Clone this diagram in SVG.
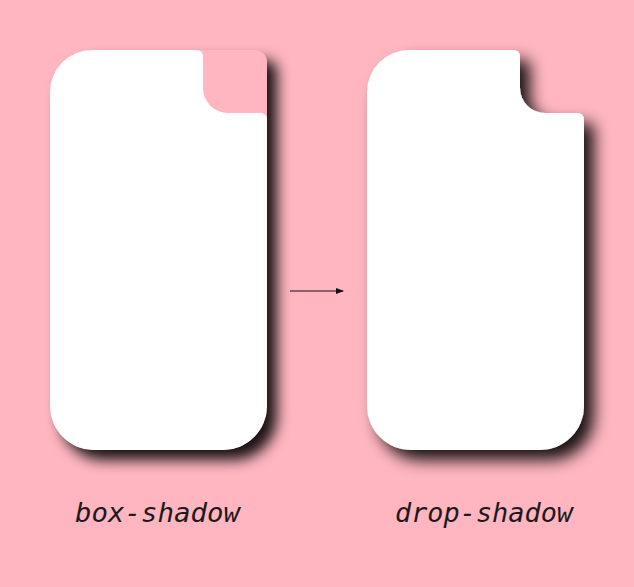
<svg xmlns="http://www.w3.org/2000/svg" width="634" height="587" viewBox="0 0 634 587">
  <defs>
    <style>
      .card { fill: #ffffff; }
      .label { font-family: "DejaVu Sans Mono", "Liberation Mono", monospace; font-style: italic; font-size: 27px; fill: #1e1a1b; }
      .conn { stroke: #111111; stroke-width: 1.2; fill: none; }
    </style>
    <path id="cardShape" d="M 50 92 A 42 42 0 0 1 92 50 H 197 A 6 6 0 0 1 203 56 V 88 A 25 25 0 0 0 228 113 H 261 A 6 6 0 0 1 267 119 V 406 A 44 44 0 0 1 223 450 H 94 A 44 44 0 0 1 50 406 Z"/>
    <filter id="blurBox" x="-20%" y="-20%" width="140%" height="140%">
      <feGaussianBlur stdDeviation="7"/>
    </filter>
    <filter id="dropShadow" x="-20%" y="-20%" width="140%" height="140%">
      <feDropShadow dx="10" dy="10" stdDeviation="8" flood-color="#000000" flood-opacity="0.9"/>
    </filter>
    <mask id="outsideBox" maskUnits="userSpaceOnUse" x="0" y="0" width="634" height="587">
      <rect x="0" y="0" width="634" height="587" fill="#ffffff"/>
      <path d="M 50 92 A 42 42 0 0 1 92 50 H 255 A 12 12 0 0 1 267 62 V 406 A 44 44 0 0 1 223 450 H 94 A 44 44 0 0 1 50 406 Z" fill="#000000"/>
    </mask>
    <marker id="arrow" markerWidth="8" markerHeight="6" refX="7" refY="3" orient="auto" markerUnits="userSpaceOnUse">
      <path d="M0,0 L8,3 L0,6 Z" fill="#111111"/>
    </marker>
  </defs>
  <rect width="634" height="587" fill="#ffb6c1"/>

  <g id="box-shadow-card">
    <g mask="url(#outsideBox)">
      <path d="M 60 102 A 42 42 0 0 1 102 60 H 265 A 12 12 0 0 1 277 72 V 416 A 44 44 0 0 1 233 460 H 104 A 44 44 0 0 1 60 416 Z" fill="#000000" fill-opacity="0.9" filter="url(#blurBox)"/>
    </g>
    <use href="#cardShape" class="card"/>
  </g>

  <g id="drop-shadow-card">
    <use href="#cardShape" class="card" transform="translate(317,0)" filter="url(#dropShadow)"/>
  </g>

  <g id="connectors">
    <line class="conn" x1="290" y1="291" x2="343" y2="291" marker-end="url(#arrow)"/>
  </g>

  <g id="label-box-shadow">
    <text class="label" x="75" y="522" textLength="165" lengthAdjust="spacingAndGlyphs">box-shadow</text>
  </g>
  <g id="label-drop-shadow">
    <text class="label" x="395" y="522" textLength="178" lengthAdjust="spacingAndGlyphs">drop-shadow</text>
  </g>
</svg>
